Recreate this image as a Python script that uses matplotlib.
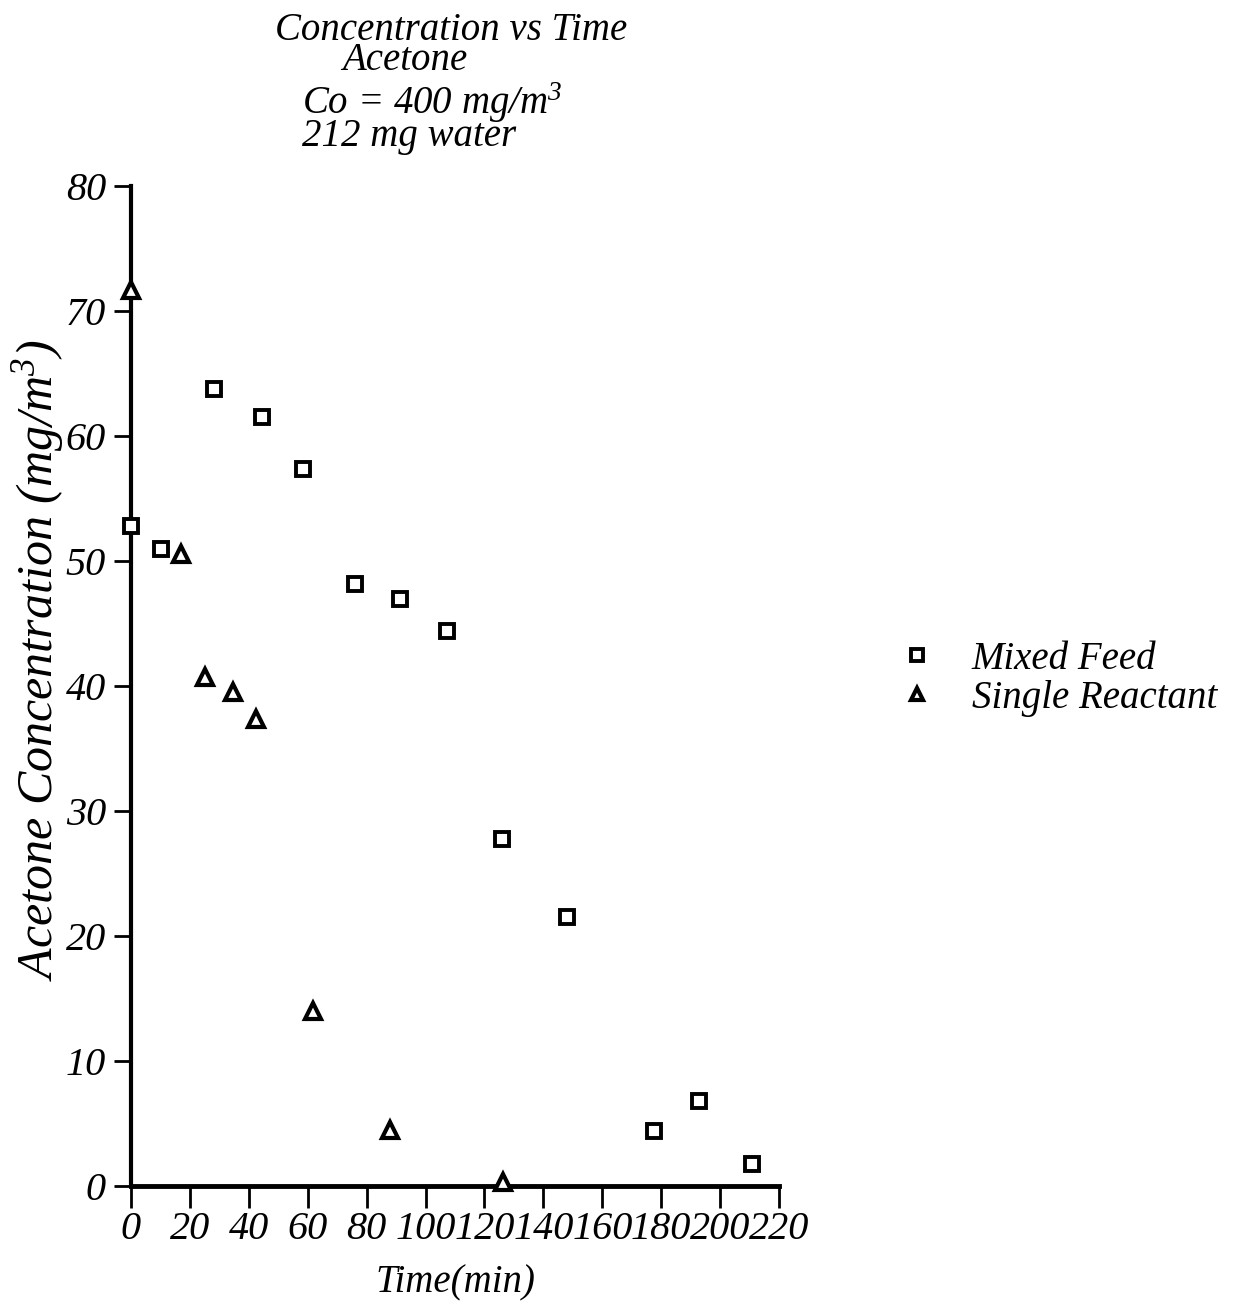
import matplotlib
matplotlib.use('Agg')
import matplotlib.pyplot as plt

plt.rcParams['font.family'] = 'Liberation Serif'
plt.rcParams['font.style'] = 'italic'
plt.rcParams['mathtext.fontset'] = 'custom'
plt.rcParams['mathtext.rm'] = 'Liberation Serif:italic'
plt.rcParams['mathtext.it'] = 'Liberation Serif:italic'
plt.rcParams['mathtext.default'] = 'it'

# Mixed Feed (squares)
mixed_t = [0, 10.2, 28.2, 44.5, 58.4, 76.1, 91.3, 107.3, 126.0, 148.0, 177.6, 192.9, 210.9]
mixed_c = [52.8, 51.0, 63.8, 61.5, 57.4, 48.2, 47.0, 44.4, 27.8, 21.5, 4.4, 6.8, 1.8]

# Single Reactant (triangles)
single_t = [0, 17.0, 25.1, 34.6, 42.4, 61.8, 87.9, 126.3]
single_c = [71.7, 50.6, 40.7, 39.5, 37.4, 14.0, 4.5, 0.3]

xticks = list(range(0, 221, 20))
yticks = list(range(0, 81, 10))

W, H = 1253, 1312
fig = plt.figure(figsize=(W / 100, H / 100), dpi=100)
ax = fig.add_axes([131 / W, 1 - 1186 / H, (779 - 131) / W, (1186 - 186) / H])

ax.plot(mixed_t, mixed_c, linestyle='none', marker='s', markersize=10,
        markerfacecolor='white', markeredgecolor='black', markeredgewidth=2.8,
        label='Mixed Feed', clip_on=False, zorder=5)
ax.plot(single_t, single_c, linestyle='none', marker='^', markersize=11,
        markerfacecolor='white', markeredgecolor='black', markeredgewidth=3,
        label='Single Reactant', clip_on=False, zorder=5)

ax.set_xlim(0, 220)
ax.set_ylim(0, 80)
ax.set_xticks(xticks)
ax.set_yticks(yticks)
ax.set_xticklabels([str(v) for v in xticks])
ax.set_yticklabels([str(v) for v in yticks])
ax.tick_params(axis='x', direction='out', length=16, width=2, labelsize=29, pad=2)
ax.tick_params(axis='y', direction='out', length=12, width=2, labelsize=29, pad=6)

for s in ['top', 'right']:
    ax.spines[s].set_visible(False)
ax.spines['left'].set_linewidth(3)
ax.spines['bottom'].set_linewidth(3.5)

ax.set_xlabel('Time(min)', fontsize=28, labelpad=12)
ax.set_ylabel('Acetone Concentration (mg/m$^{3}$)', fontsize=36)
ax.yaxis.set_label_coords(-0.1, 0.526)

fig.text(275 / W, 1 - 40 / H, 'Concentration vs Time', fontsize=28, va='baseline')
fig.text(342 / W, 1 - 70 / H, 'Acetone', fontsize=28, va='baseline')
fig.text(302 / W, 1 - 114 / H, 'Co = 400 mg/m$^{3}$', fontsize=28, va='baseline')
fig.text(302 / W, 1 - 146 / H, '212 mg water', fontsize=28, va='baseline')

ax.legend(loc='center left', bbox_to_anchor=(898 / W, 1 - 679 / H),
          bbox_transform=fig.transFigure, frameon=False, fontsize=28,
          handlelength=1.0, handletextpad=0.9, labelspacing=0.05,
          borderpad=0, borderaxespad=0, markerscale=0.8)

fig.savefig('out.png', dpi=100)
